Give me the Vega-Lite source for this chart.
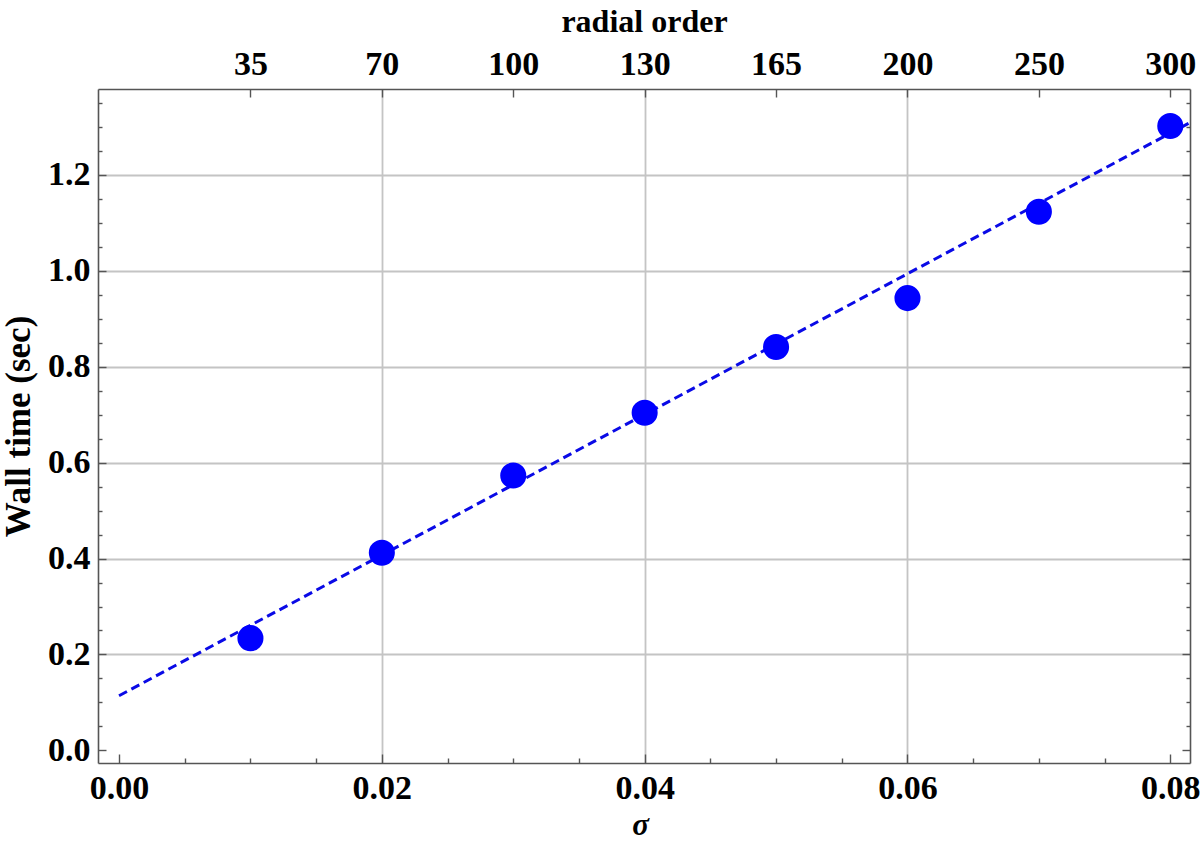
{
  "$schema": "https://vega.github.io/schema/vega-lite/v6.json",
  "autosize": {"type": "none"},
  "width": 1092,
  "height": 674,
  "padding": {"left": 98, "top": 89, "right": 10, "bottom": 80},
  "background": "white",
  "config": {
    "view": {"stroke": null},
    "axis": {
      "labelFont": "Liberation Serif",
      "labelFontWeight": "bold",
      "labelFontSize": 34,
      "labelColor": "black",
      "titleFont": "Liberation Serif",
      "titleFontWeight": "bold",
      "titleFontSize": 35,
      "titleColor": "black",
      "domainColor": "#555555",
      "domainWidth": 1.6,
      "tickColor": "#555555",
      "tickWidth": 1.4,
      "gridColor": "#c4c4c4",
      "gridWidth": 1.8,
      "labelFlush": false,
      "labelOverlap": false
    }
  },
  "resolve": {"axis": {"x": "independent", "y": "independent"}},
  "layer": [
    {
      "data": {"values": [{"sigma": 0.0, "time": 0.114}, {"sigma": 0.0815, "time": 1.309}]},
      "mark": {"type": "line", "color": "#0a0ae6", "strokeWidth": 3, "strokeDash": [9, 5], "clip": true},
      "encoding": {
        "x": {
          "field": "sigma", "type": "quantitative",
          "scale": {"domain": [-0.0016, 0.0815], "nice": false, "zero": false},
          "axis": {
            "orient": "bottom",
            "title": "σ",
            "titleFontStyle": "italic",
            "titleFontSize": 31,
            "titleY": 71,
            "titleX": 542,
            "titleBaseline": "alphabetic",
            "values": [0, 0.005, 0.01, 0.015, 0.02, 0.025, 0.03, 0.035, 0.04, 0.045, 0.05, 0.055, 0.06, 0.065, 0.07, 0.075, 0.08],
            "labelExpr": "abs(datum.value*50 - round(datum.value*50)) < 0.001 ? format(datum.value, '.2f') : ''",
            "tickSize": {"condition": {"test": "abs(datum.value*50 - round(datum.value*50)) < 0.001", "value": -9}, "value": -5},
            "labelPadding": 17,
            "grid": true,
            "gridOpacity": {"condition": {"test": "abs(datum.value*50 - round(datum.value*50)) < 0.001 && datum.value > 0.001 && datum.value < 0.079", "value": 1}, "value": 0}
          }
        },
        "y": {
          "field": "time", "type": "quantitative",
          "scale": {"domain": [-0.0263, 1.379], "nice": false, "zero": false},
          "axis": {
            "orient": "left",
            "title": "Wall time (sec)",
            "titleX": -80,
            "titleBaseline": "middle",
            "values": [0, 0.05, 0.1, 0.15, 0.2, 0.25, 0.3, 0.35, 0.4, 0.45, 0.5, 0.55, 0.6, 0.65, 0.7, 0.75, 0.8, 0.85, 0.9, 0.95, 1.0, 1.05, 1.1, 1.15, 1.2, 1.25, 1.3, 1.35],
            "labelExpr": "abs(datum.value*5 - round(datum.value*5)) < 0.001 ? format(datum.value, '.1f') : ''",
            "tickSize": {"condition": {"test": "abs(datum.value*5 - round(datum.value*5)) < 0.001", "value": -8}, "value": -4},
            "labelPadding": 16,
            "labelBaseline": "middle",
            "grid": true,
            "gridOpacity": {"condition": {"test": "abs(datum.value*5 - round(datum.value*5)) < 0.001 && datum.value > 0.01", "value": 1}, "value": 0}
          }
        }
      }
    },
    {
      "data": {"values": [
        {"sigma": 0.01, "time": 0.234},
        {"sigma": 0.02, "time": 0.412},
        {"sigma": 0.03, "time": 0.573},
        {"sigma": 0.04, "time": 0.704},
        {"sigma": 0.05, "time": 0.841},
        {"sigma": 0.06, "time": 0.943},
        {"sigma": 0.07, "time": 1.123},
        {"sigma": 0.08, "time": 1.302}
      ]},
      "mark": {"type": "circle", "color": "#0000ff", "opacity": 1, "size": 680},
      "encoding": {
        "x": {
          "field": "sigma", "type": "quantitative",
          "scale": {"domain": [-0.0016, 0.0815], "nice": false, "zero": false},
          "axis": {
            "orient": "top",
            "title": "radial order",
            "titleFontSize": 32,
            "titleY": -58,
            "titleBaseline": "alphabetic",
            "values": [0.01, 0.02, 0.03, 0.04, 0.05, 0.06, 0.07, 0.08],
            "labelExpr": "['0','35','70','100','130','165','200','250','300'][round(datum.value*100)]",
            "tickSize": -8,
            "labelPadding": 23,
            "labelBaseline": "alphabetic",
            "grid": false
          }
        },
        "y": {
          "field": "time", "type": "quantitative",
          "scale": {"domain": [-0.0263, 1.379], "nice": false, "zero": false},
          "axis": {
            "orient": "right",
            "title": null,
            "labels": false,
            "values": [0, 0.05, 0.1, 0.15, 0.2, 0.25, 0.3, 0.35, 0.4, 0.45, 0.5, 0.55, 0.6, 0.65, 0.7, 0.75, 0.8, 0.85, 0.9, 0.95, 1.0, 1.05, 1.1, 1.15, 1.2, 1.25, 1.3, 1.35],
            "tickSize": {"condition": {"test": "abs(datum.value*5 - round(datum.value*5)) < 0.001", "value": -8}, "value": -4},
            "grid": false
          }
        }
      }
    }
  ]
}
